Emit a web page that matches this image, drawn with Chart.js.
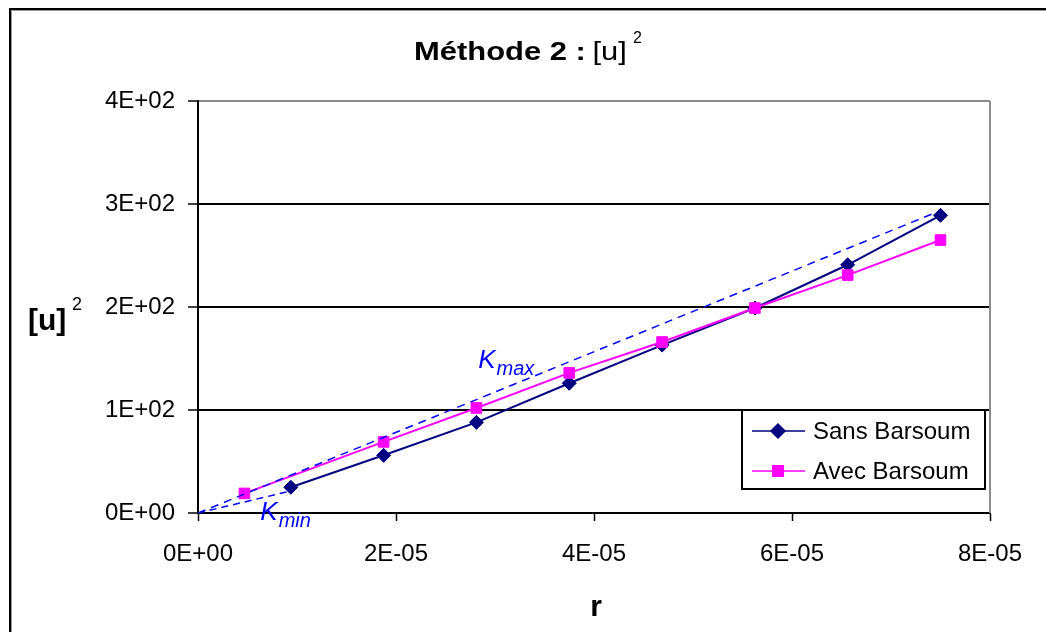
<!DOCTYPE html>
<html>
<head>
<meta charset="utf-8">
<title>Méthode 2</title>
<script src="https://cdn.jsdelivr.net/npm/chart.js@4.4.0/dist/chart.umd.min.js"></script>
<style>
  body { margin: 0; background: #fff; }
  canvas { display: block; }
</style>
</head>
<body>
<canvas id="chart" width="1046" height="632"></canvas>
<script>
// values
var rSans = [9.375e-6, 1.875e-5, 2.8125e-5, 3.75e-5, 4.6875e-5, 5.625e-5, 6.5625e-5, 7.5e-5];
var uSans = [25, 56, 88, 126, 163, 199, 241, 289];
var rAvec = [4.6875e-6, 1.875e-5, 2.8125e-5, 3.75e-5, 4.6875e-5, 5.625e-5, 6.5625e-5, 7.5e-5];
var uAvec = [19, 69, 102, 136, 166, 199, 231, 265];
var rKmax = [0, 7.46e-5];
var uKmax = [0, 292];
var rKmin = [0, 9.2e-6];
var uKmin = [0, 21];
var xTickLabels = ['0E+00', '2E-05', '4E-05', '6E-05', '8E-05'];
var yTickLabels = ['0E+00', '1E+02', '2E+02', '3E+02', '4E+02'];
var seriesNames = ['Sans Barsoum', 'Avec Barsoum'];
// K labels: subscript and anchor (r, u)
var kLabels = [
    { sub: 'max', r: 2.83e-5, u: 141 },
    { sub: 'min', r: 0.63e-5, u: -7 }
];

var FONT = '"Liberation Sans", Arial, sans-serif';

function points(xs, ys) {
    var out = [];
    for (var i = 0; i < xs.length; i++) {
        out.push({ x: xs[i], y: ys[i] });
    }
    return out;
}

// white background, outer frame, right border of plot area
var framePlugin = {
    id: 'frame',
    beforeDraw: function(chart) {
        var ctx = chart.ctx;
        ctx.save();
        ctx.fillStyle = '#fff';
        ctx.fillRect(0, 0, chart.width, chart.height);
        ctx.fillStyle = '#000';
        ctx.fillRect(9, 8, chart.width, 2);
        ctx.fillRect(9, 8, 2, chart.height);
        ctx.fillStyle = '#9a9a9a';
        ctx.fillRect(11, 10, chart.width, 1);
        ctx.fillRect(11, 10, 1, chart.height);
        ctx.restore();
    },
    beforeDatasetsDraw: function(chart) {
        var ctx = chart.ctx;
        var a = chart.chartArea;
        ctx.save();
        ctx.strokeStyle = '#8c8c8c';
        ctx.lineWidth = 2;
        ctx.beginPath();
        ctx.moveTo(a.right, a.top);
        ctx.lineTo(a.right, a.bottom);
        ctx.stroke();
        ctx.restore();
    }
};

// title, axis titles, K labels and legend
var textPlugin = {
    id: 'texts',
    afterDraw: function(chart) {
        var ctx = chart.ctx;
        var xs = chart.scales.x, ys = chart.scales.y;
        var a = chart.chartArea;
        ctx.save();
        ctx.fillStyle = '#000';
        ctx.textBaseline = 'alphabetic';
        ctx.textAlign = 'left';

        // title: "Méthode 2 : [u]²" (wide letters)
        var sx = 1.19;
        var x = 414, y = 60;
        ctx.font = 'bold 26px ' + FONT;
        var t1 = 'Méthode 2 :';
        ctx.save(); ctx.translate(x, y); ctx.scale(sx, 1); ctx.fillText(t1, 0, 0); ctx.restore();
        x += ctx.measureText(t1 + ' ').width * sx - 2;
        ctx.font = '26px ' + FONT;
        ctx.save(); ctx.translate(x, y); ctx.scale(sx, 1); ctx.fillText('[u]', 0, 0); ctx.restore();
        x += ctx.measureText('[u]').width * sx + 6;
        ctx.font = '16px ' + FONT;
        ctx.fillText('2', x, 43);

        // y axis title "[u]²"
        ctx.font = 'bold 30px ' + FONT;
        ctx.fillText('[u]', 28, 330);
        ctx.font = '18px ' + FONT;
        ctx.fillText('2', 72, 310);

        // x axis title "r"
        ctx.font = 'bold 30px ' + FONT;
        ctx.textAlign = 'center';
        ctx.fillText('r', (a.left + a.right) / 2 + 2, 616);

        // K labels in blue italic
        ctx.fillStyle = '#0000ff';
        ctx.textAlign = 'left';
        for (var i = 0; i < kLabels.length; i++) {
            var kx = xs.getPixelForValue(kLabels[i].r);
            var ky = ys.getPixelForValue(kLabels[i].u);
            ctx.font = 'italic 26px ' + FONT;
            ctx.fillText('K', kx, ky);
            var kw = ctx.measureText('K').width;
            ctx.font = 'italic 20px ' + FONT;
            ctx.fillText(kLabels[i].sub, kx + kw + 1, ky + 7);
        }

        // legend box inside plot area
        var lx = a.right - 248, lr = a.right - 5;
        var lt = ys.getPixelForValue(100), lb = lt + 79;
        ctx.fillStyle = '#fff';
        ctx.fillRect(lx, lt, lr - lx, lb - lt);
        ctx.strokeStyle = '#000';
        ctx.lineWidth = 2;
        ctx.strokeRect(lx, lt, lr - lx, lb - lt);
        var ds = chart.data.datasets;
        for (var j = 0; j < 2; j++) {
            var yy = lt + 21 + j * 40;
            ctx.strokeStyle = ds[j].borderColor;
            ctx.lineWidth = 1.5;
            ctx.beginPath();
            ctx.moveTo(lx + 10, yy);
            ctx.lineTo(lx + 63, yy);
            ctx.stroke();
            Chart.helpers.drawPoint(ctx, {
                pointStyle: ds[j].pointStyle,
                radius: ds[j].pointRadius,
                borderWidth: 1
            }, lx + 36, yy);
            ctx.fillStyle = ds[j].backgroundColor;
            ctx.fill();
            ctx.fillStyle = '#000';
            ctx.font = '24px ' + FONT;
            ctx.textBaseline = 'middle';
            ctx.fillText(seriesNames[j], lx + 71, yy + 1);
            ctx.textBaseline = 'alphabetic';
        }
        ctx.restore();
    }
};

window.onload = function() {
    var ctx = document.getElementById('chart').getContext('2d');
    var chart = new Chart(ctx, {
        type: 'scatter',
        data: {
            datasets: [{
                label: seriesNames[0],
                data: points(rSans, uSans),
                showLine: true,
                borderColor: '#000080',
                backgroundColor: '#000080',
                borderWidth: 2,
                pointStyle: 'rectRot',
                pointRadius: 7,
                pointBorderWidth: 1,
                order: 2
            }, {
                label: seriesNames[1],
                data: points(rAvec, uAvec),
                showLine: true,
                borderColor: '#ff00ff',
                backgroundColor: '#ff00ff',
                borderWidth: 2,
                pointStyle: 'rect',
                pointRadius: 7.5,
                pointBorderWidth: 1,
                order: 1
            }, {
                label: 'Kmax',
                data: points(rKmax, uKmax),
                showLine: true,
                borderColor: '#0000ff',
                borderWidth: 1.5,
                borderDash: [8, 6],
                pointRadius: 0,
                order: 0
            }, {
                label: 'Kmin',
                data: points(rKmin, uKmin),
                showLine: true,
                borderColor: '#0000ff',
                borderWidth: 1.5,
                borderDash: [7, 5],
                pointRadius: 0,
                order: 0
            }]
        },
        options: {
            responsive: false,
            animation: false,
            devicePixelRatio: 1,
            layout: { padding: { top: 101, right: 56, bottom: 0, left: 0 } },
            plugins: {
                legend: { display: false },
                title: { display: false },
                tooltip: { enabled: false }
            },
            scales: {
                x: {
                    type: 'linear',
                    min: 0,
                    max: 8e-5,
                    afterFit: function(s) { s.height = 119; },
                    afterBuildTicks: function(s) {
                        s.ticks = xTickLabels.map(function(l, i) { return { value: i * 2e-5 }; });
                    },
                    border: { color: '#000', width: 2 },
                    grid: { drawOnChartArea: false, drawTicks: true, tickLength: 8, tickColor: '#000', tickWidth: 1.5 },
                    ticks: {
                        color: '#000',
                        padding: 19,
                        maxRotation: 0,
                        font: { family: FONT, size: 24 },
                        callback: function(value, index) { return xTickLabels[index]; }
                    }
                },
                y: {
                    min: 0,
                    max: 400,
                    afterFit: function(s) { s.width = 198; },
                    afterBuildTicks: function(s) {
                        s.ticks = yTickLabels.map(function(l, i) { return { value: i * 100 }; });
                    },
                    border: { color: '#000', width: 2 },
                    grid: {
                        color: function(c) { return c.tick && c.tick.value === 400 ? '#8c8c8c' : '#000'; },
                        lineWidth: 2,
                        tickLength: 10,
                        tickColor: '#000',
                        tickWidth: 1.5
                    },
                    ticks: {
                        color: '#000',
                        padding: 13,
                        font: { family: FONT, size: 24 },
                        callback: function(value, index) { return yTickLabels[index]; }
                    }
                }
            }
        },
        plugins: [framePlugin, textPlugin]
    });
};
</script>
</body>
</html>
